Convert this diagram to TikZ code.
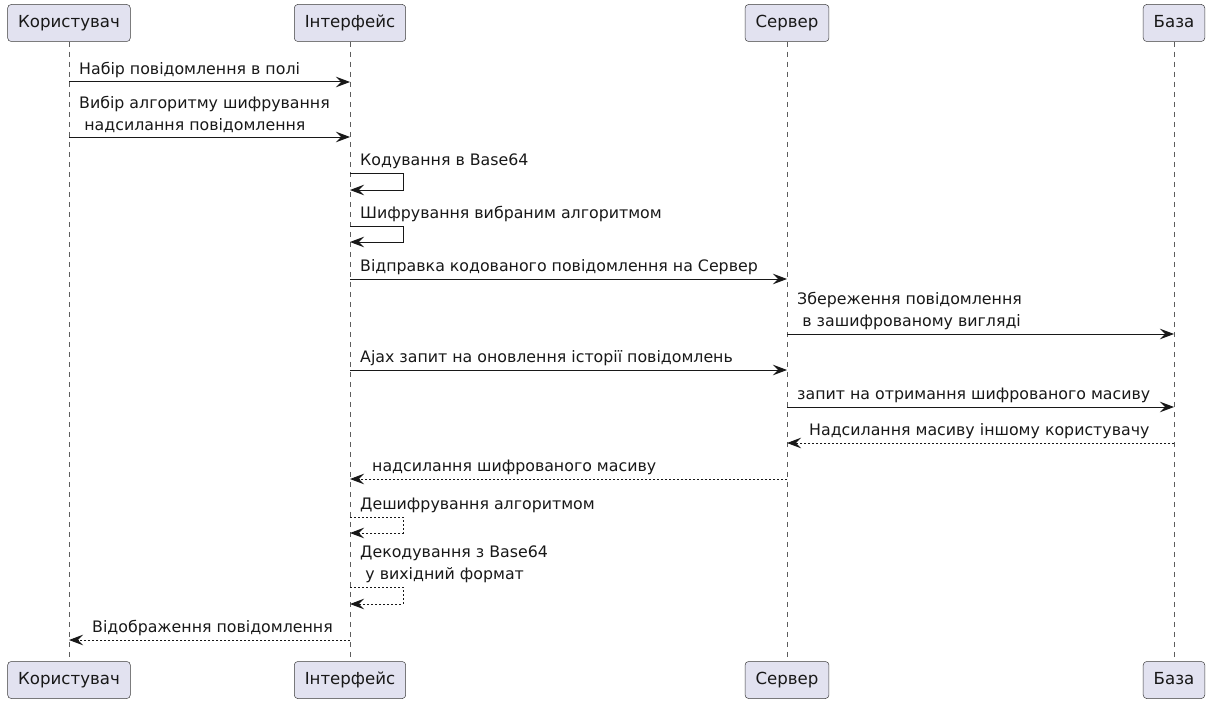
\documentclass[tikz,border=0pt]{standalone}
\usepackage{fontspec}
\setmainfont{DejaVu Sans}
\usetikzlibrary{arrows.meta}
\definecolor{pbox}{HTML}{E2E2F0}
\definecolor{pline}{HTML}{181818}
\begin{document}
\begin{tikzpicture}[x=1pt, y=-1pt,
  actor/.style={draw=pline!85, fill=pbox, rounded corners=3.5pt, line width=0.5pt,
                minimum height=37pt, inner xsep=10.5pt, text height=12pt,
                text depth=3.5pt, text=pline, font=\fontsize{16.6}{19}\selectfont},
  life/.style={draw=pline!70, line width=0.6pt, dash pattern=on 5pt off 5pt},
  msg/.style={draw=pline, line width=1pt,
              -{Stealth[length=14pt, width=10.5pt, inset=5pt]}},
  back/.style={msg, dash pattern=on 2pt off 2pt},
  mtxt/.style={anchor=south west, inner sep=0pt, align=left, text=pline,
               font=\fontsize{15.8}{22}\selectfont},
]
\useasboundingbox (0,0) rectangle (1213,701);
% participants
\node[actor] (uT) at (69,23)   {Користувач};
\node[actor] (iT) at (350,23)  {Інтерфейс};
\node[actor] (sT) at (787,23)  {Сервер};
\node[actor] (bT) at (1174,23) {База};
\node[actor] (uB) at (69,680)   {Користувач};
\node[actor] (iB) at (350,680)  {Інтерфейс};
\node[actor] (sB) at (787,680)  {Сервер};
\node[actor] (bB) at (1174,680) {База};
\draw[life] (uT) -- (uB);
\draw[life] (iT) -- (iB);
\draw[life] (sT) -- (sB);
\draw[life] (bT) -- (bB);
% messages
\draw[msg] (uT |- 0,82) -- (iT |- 0,82);
\node[mtxt] (m1) at (79,78) {Набір повідомлення в полі};
\draw[msg] (uT |- 0,137) -- (iT |- 0,137);
\node[mtxt] (m2) at (79,133) {Вибір алгоритму шифрування\\\hspace*{0.33em}надсилання повідомлення};
\draw[msg] (iT |- 0,173) -- ++(53,0) |- (iT |- 0,190);
\node[mtxt] (m3) at (360,169) {Кодування в Base64};
\draw[msg] (iT |- 0,226) -- ++(53,0) |- (iT |- 0,242);
\node[mtxt] (m4) at (360,222) {Шифрування вибраним алгоритмом};
\draw[msg] (iT |- 0,279) -- (sT |- 0,279);
\node[mtxt] (m5) at (360,275) {Відправка кодованого повідомлення на Сервер};
\draw[msg] (sT |- 0,334) -- (bT |- 0,334);
\node[mtxt] (m6) at (797,330) {Збереження повідомлення\\\hspace*{0.33em}в зашифрованому вигляді};
\draw[msg] (iT |- 0,370) -- (sT |- 0,370);
\node[mtxt] (m7) at (360,366) {Ajax запит на оновлення історії повідомлень};
\draw[msg] (sT |- 0,407) -- (bT |- 0,407);
\node[mtxt] (m8) at (797,403) {запит на отримання шифрованого масиву};
\draw[back] (bT |- 0,443) -- (sT |- 0,443);
\node[mtxt] (m9) at (809,439) {Надсилання масиву іншому користувачу};
\draw[back] (sT |- 0,479) -- (iT |- 0,479);
\node[mtxt] (m10) at (372,475) {надсилання шифрованого масиву};
\draw[back] (iT |- 0,517) -- ++(53,0) |- (iT |- 0,533);
\node[mtxt] (m11) at (360,513) {Дешифрування алгоритмом};
\draw[back] (iT |- 0,587) -- ++(53,0) |- (iT |- 0,604);
\node[mtxt] (m12) at (360,583) {Декодування з Base64\\\hspace*{0.33em}у вихідний формат};
\draw[back] (iT |- 0,640) -- (uT |- 0,640);
\node[mtxt] (m13) at (92,636) {Відображення повідомлення};
\end{tikzpicture}
\end{document}
